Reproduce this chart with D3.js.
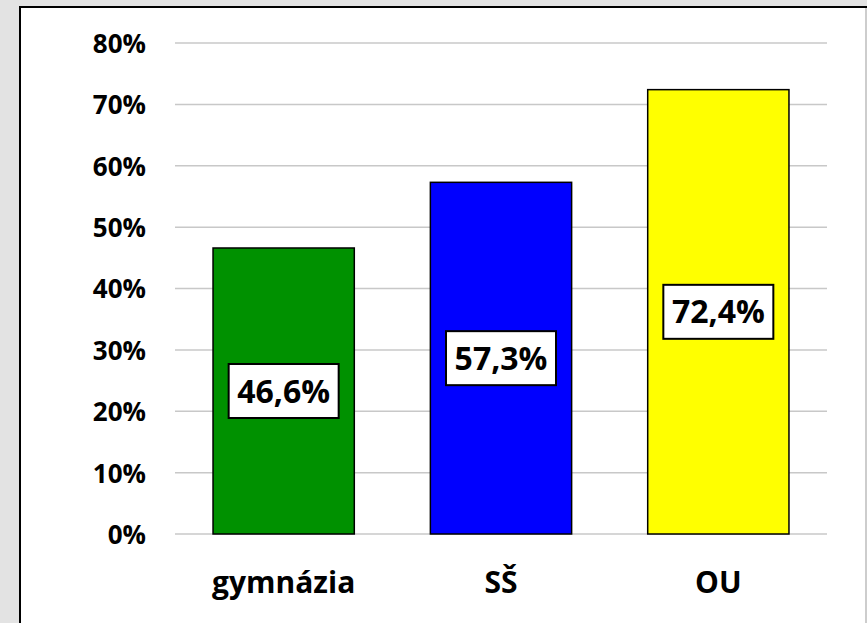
<!DOCTYPE html>
<html><head><meta charset="utf-8">
<script src="https://cdn.jsdelivr.net/npm/d3@7"></script>
<style>
html,body{margin:0;padding:0;background:#e3e3e3;}
svg{display:block;}
text{font-family:"Open Sans",sans-serif;font-weight:bold;fill:#000;}
</style></head><body>
<svg id="c" width="867" height="623"></svg>
<script>
const categories = ["gymnázia", "SŠ", "OU"];
const values = [46.6, 57.3, 72.4];
const valueLabels = ["46,6%", "57,3%", "72,4%"];
const colors = ["#009100", "#0000ff", "#ffff00"];
const yTicks = [0, 10, 20, 30, 40, 50, 60, 70, 80];
const yTickLabels = ["0%", "10%", "20%", "30%", "40%", "50%", "60%", "70%", "80%"];

const FONT = "'Open Sans', sans-serif";
const svg = d3.select("#c");
// chart frame
svg.append("rect").attr("x", 20).attr("y", 7).attr("width", 860).attr("height", 640)
  .attr("fill", "#fff").attr("stroke", "#000").attr("stroke-width", 2);
svg.append("line").attr("x1", 866).attr("x2", 866).attr("y1", 8).attr("y2", 623)
  .attr("stroke", "#bdbdbd").attr("stroke-width", 1.5);

const x = d3.scaleBand().domain(categories).range([175, 827]).paddingInner(0.35).paddingOuter(0.175);
const y = d3.scaleLinear().domain([0, 80]).range([534, 43]);

// gridlines
svg.append("g").selectAll("line").data(yTicks).join("line")
  .attr("x1", 175).attr("x2", 827)
  .attr("y1", d => y(d)).attr("y2", d => y(d))
  .attr("stroke", "#c8c8c8").attr("stroke-width", 1.5);

// y axis labels
const yAxis = d3.axisLeft(y).tickValues(yTicks).tickFormat((d, i) => yTickLabels[i]).tickSize(0).tickPadding(0);
const yg = svg.append("g").attr("transform", "translate(146,0)").call(yAxis);
yg.select(".domain").remove();
yg.selectAll("text").style("font-size", "26px").style("font-family", FONT).style("font-weight", "bold").attr("fill", "#000").attr("dy", "0.36em");

// bars
svg.append("g").selectAll("rect").data(values).join("rect")
  .attr("x", (d, i) => x(categories[i]))
  .attr("width", x.bandwidth())
  .attr("y", d => y(d))
  .attr("height", d => y(0) - y(d))
  .attr("fill", (d, i) => colors[i])
  .attr("stroke", "#000").attr("stroke-width", 1.5);

// x axis labels
const xAxis = d3.axisBottom(x).tickSize(0).tickPadding(0);
const xg = svg.append("g").attr("transform", "translate(0,593)").call(xAxis);
xg.select(".domain").remove();
xg.selectAll("text").style("font-size", "30px").style("font-family", FONT).style("font-weight", "bold").attr("fill", "#000").attr("dy", "0");

// value labels
const lg = svg.append("g");
values.forEach((v, i) => {
  const cx = x(categories[i]) + x.bandwidth() / 2;
  const cy = (y(v) + y(0)) / 2;
  const g = lg.append("g");
  const rect = g.append("rect");
  g.append("text").attr("x", cx).attr("y", cy).attr("text-anchor", "middle")
    .attr("dy", "0.36em").style("font-size", "32px").style("font-family", FONT).text(valueLabels[i]);
  rect.attr("x", cx - 55).attr("y", cy - 27).attr("width", 110).attr("height", 54)
    .attr("fill", "#fff").attr("stroke", "#000").attr("stroke-width", 2);
});
</script>
</body></html>
